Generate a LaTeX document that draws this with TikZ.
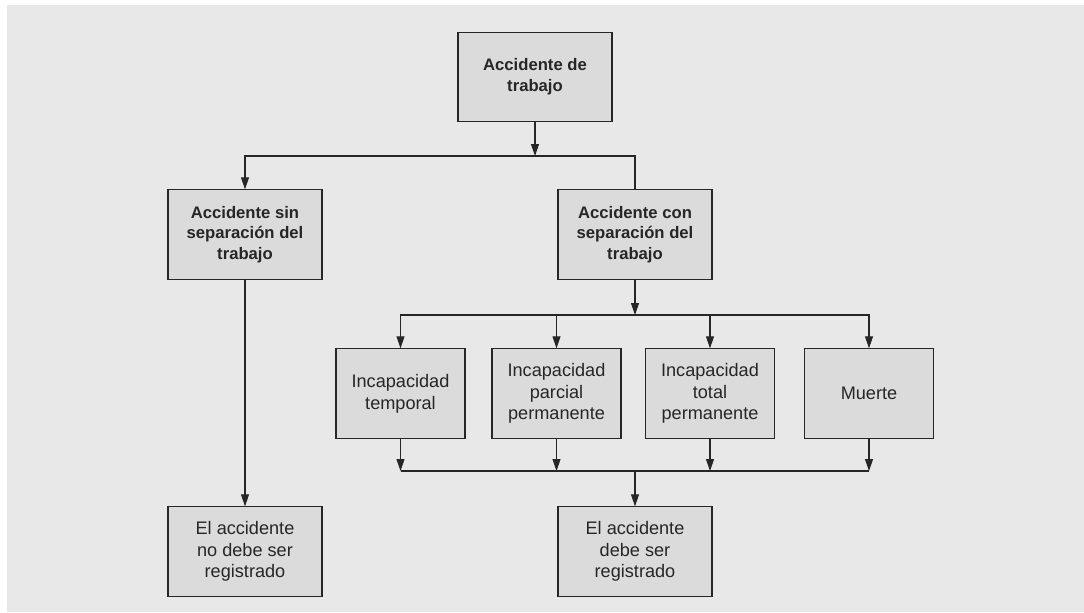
\documentclass[tikz,border=0pt]{standalone}
\usepackage{fontspec}
\setsansfont{Liberation Sans}
\usetikzlibrary{arrows.meta}
\definecolor{panel}{HTML}{E8E8E8}
\definecolor{boxfill}{HTML}{DBDBDB}
\definecolor{edge}{HTML}{262626}
\begin{document}
\begin{tikzpicture}[x=.75pt, y=-.75pt, line width=.8pt, color=edge,
		>={Triangle[width=6pt, length=9pt]},
		box/.style={draw=edge, fill=boxfill, minimum width=115.5pt, minimum height=67pt,
			align=center, inner sep=2pt, font=\sffamily\fontsize{13.6}{16.3}\selectfont},
		head/.style={box, font=\sffamily\bfseries\fontsize{12.5}{15.5}\selectfont},
		narrowbox/.style={box, minimum width=96.75pt}]
			\useasboundingbox (0, 0) rectangle (1084, 612);
			\fill[panel] (7, 5) rectangle (1084, 612);
			% boxes
			\node[head] (acc) at (535, 77) {Accidente de\\trabajo};
			\node[head] (sin) at (245, 234.5) {Accidente sin\\separación del\\trabajo};
			\node[head] (con) at (635, 234.5) {Accidente con\\separación del\\trabajo};
			\node[narrowbox] (temp) at (400.5, 393.5) {Incapacidad\\temporal};
			\node[narrowbox] (parc) at (556.5, 393.5) {Incapacidad\\parcial\\permanente};
			\node[narrowbox] (total) at (710, 393.5) {Incapacidad\\total\\permanente};
			\node[narrowbox] (muerte) at (869, 393.5) {Muerte};
			\node[box] (noreg) at (245, 551.5) {El accidente\\no debe ser\\registrado};
			\node[box] (reg) at (635, 551.5) {El accidente\\debe ser\\registrado};
			% junctions
			\coordinate (j1) at (535, 156);
			\coordinate (j2) at (635, 315);
			\coordinate (j3) at (635, 471);
			% connectors
			\draw[->] (acc) -- (j1);
			\draw[->] (j1) -| (sin);
			\draw (j1) -| (con);
			\draw[->] (sin) -- (noreg);
			\draw[->] (con) -- (j2);
			\foreach \n in {temp, parc, total, muerte} {
				\draw[->] (j2) -| (\n);
				\draw[->] (\n) -- (\n |- j3);
			}
			\draw (temp |- j3) -- (muerte |- j3);
			\draw[->] (j3) -- (reg);
\end{tikzpicture}
\end{document}
